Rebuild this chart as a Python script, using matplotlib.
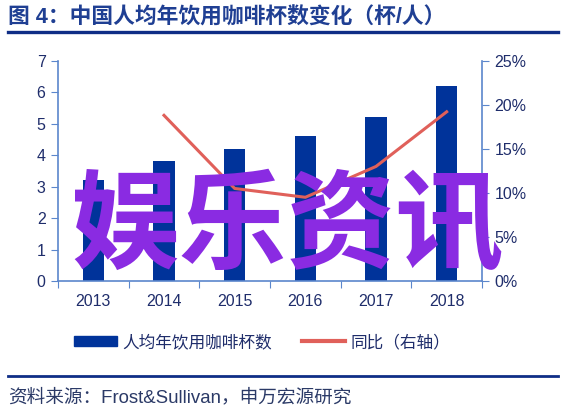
import matplotlib

matplotlib.use("Agg")
import matplotlib.pyplot as plt
from matplotlib.lines import Line2D
from matplotlib.patches import Patch
import numpy as np

plt.rcParams["font.family"] = ["Liberation Sans", "Noto Sans CJK SC", "DejaVu Sans"]

years = ["2013", "2014", "2015", "2016", "2017", "2018"]
cups = [3.2, 3.8, 4.2, 4.6, 5.2, 6.2]
yoy_years = ["2014", "2015", "2016", "2017", "2018"]
yoy = [18.8, 10.5, 9.5, 13.0, 19.2]

navy = "#1F2D6B"
bar_color = "#00339A"
line_color = "#E0605A"
axis_color = "#5B86CC"

fig = plt.figure(figsize=(5.66, 4.12), dpi=100)
fig.patch.set_facecolor("white")
ax = fig.add_axes([58 / 566, 131 / 412, 424 / 566, 220.3 / 412])
ax2 = ax.twinx()

x = np.arange(len(years))
ax.bar(x, cups, width=0.3, color=bar_color, zorder=2)
xi = [years.index(y) for y in yoy_years]
ax2.plot(xi, yoy, color=line_color, linewidth=2.2, zorder=3)

ax.set_xlim(-0.5, len(years) - 0.5)
ax.set_ylim(0, 7)
ax2.set_ylim(0, 25)
ax.set_xticks(np.arange(-0.5, len(years), 1.0))
ax.set_xticklabels([])
ax.set_xticks(x, minor=True)
ax.set_xticklabels(years, minor=True)
ax.tick_params(axis="x", which="minor", length=0, pad=9)
ax.tick_params(axis="x", which="major", length=5, color=axis_color)
ax.set_yticks(range(0, 8))
ax2.set_yticks(range(0, 26, 5))
ax2.set_yticklabels([f"{v}%" for v in range(0, 26, 5)])

for a in (ax, ax2):
    for s in a.spines.values():
        s.set_visible(False)
    a.tick_params(labelsize=11.5, labelcolor=navy, color=axis_color, which="both")
ax.spines["left"].set_visible(True)
ax.spines["bottom"].set_visible(True)
ax2.spines["right"].set_visible(True)
for s in (ax.spines["left"], ax.spines["bottom"], ax2.spines["right"]):
    s.set_color(axis_color)
    s.set_linewidth(1.2)
ax.tick_params(axis="y", length=5, pad=4)
ax2.tick_params(axis="y", length=5, pad=4)

# title and rules
fig.text(8 / 566, 1 - 18 / 412, "图 4：中国人均年饮用咖啡杯数变化（杯/人）", fontsize=15.7,
         fontweight="bold", color="#1F3F93", va="center", ha="left")
fig.add_artist(Line2D([8 / 566, 558 / 566], [1 - 32 / 412] * 2, color="#0F2E86", linewidth=2.4))
fig.add_artist(Line2D([8 / 566, 558 / 566], [1 - 376 / 412] * 2, color="#0F2E86", linewidth=2.0))
fig.text(8 / 566, 1 - 397 / 412, "资料来源：Frost&Sullivan，申万宏源研究", fontsize=13.4,
         color="#2B3A67", va="center", ha="left")

handles = [Patch(color=bar_color), Line2D([0], [0], color=line_color, linewidth=3)]
fig.legend(handles, ["人均年饮用咖啡杯数", "同比（右轴）"], loc="center",
           bbox_to_anchor=(262 / 566, 1 - 342 / 412), ncol=2, frameon=False,
           fontsize=12, labelcolor=navy, handlelength=2.6, handleheight=0.6,
           handletextpad=0.3, columnspacing=1.8)

# watermark
fig.text(287 / 566, 1 - 229 / 412, "娱乐资讯", fontsize=78, fontweight="bold",
         color="#8A2BE2", family=["Noto Sans CJK SC"], ha="center", va="center", zorder=10)

fig.savefig("out.png", dpi=100, facecolor="white")
